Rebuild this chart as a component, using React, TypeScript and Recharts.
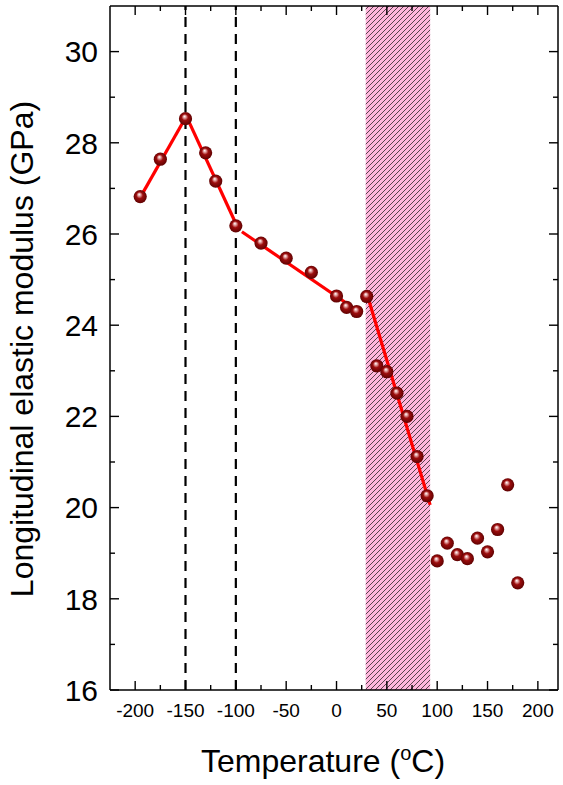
import React from 'react';
import {
  ComposedChart, Scatter, Line, XAxis, YAxis, ReferenceArea, ReferenceLine,
} from 'recharts';

// measured points (temperature in °C, modulus in GPa)
const tempC = [-195, -175, -150, -130, -120, -100, -75, -50, -25, 0, 10, 20, 30, 40, 50, 60, 70, 80, 90, 100, 110, 120, 130, 140, 150, 160, 170, 180];
const modulus = [26.82, 27.64, 28.53, 27.78, 27.16, 26.18, 25.8, 25.47, 25.16, 24.64, 24.39, 24.3, 24.63, 23.11, 22.98, 22.51, 22.0, 21.12, 20.26, 18.83, 19.22, 18.97, 18.88, 19.33, 19.03, 19.52, 20.5, 18.35];

// linear fit segments
const fit1X = [-194.5, -150];
const fit1Y = [26.82, 28.55];
const fit2X = [-148, -99];
const fit2Y = [28.53, 26.18];
const fit3X = [-94, 18];
const fit3Y = [26.05, 24.36];
const fit4X = [31, 93];
const fit4Y = [24.63, 20.06];

// transition regions
const transitionLines = [-150, -100];
const bandStart = 29;
const bandEnd = 93;

const xMajor = [-200, -150, -100, -50, 0, 50, 100, 150, 200];
const xMinor = [-175, -125, -75, -25, 25, 75, 125, 175];
const yMajor = [16, 18, 20, 22, 24, 26, 28, 30];
const yMinor = [17, 19, 21, 23, 25, 27, 29];

const xDomain = [-225, 220];
const yDomain = [16, 31];

const points = tempC.map((t, i) => ({ x: t, y: modulus[i] }));
const toSeg = (xs: number[], ys: number[]) => xs.map((x, i) => ({ x, y: ys[i] }));
const segments = [toSeg(fit1X, fit1Y), toSeg(fit2X, fit2Y), toSeg(fit3X, fit3Y), toSeg(fit4X, fit4Y)];

const FONT = '"Liberation Sans", Arial, Helvetica, sans-serif';
const xTicks = [...xMajor, ...xMinor].sort((a, b) => a - b);
const yTicks = [...yMajor, ...yMinor].sort((a, b) => a - b);

const BottomTick = ({ x, y, payload }: any) => {
  const major = xMajor.includes(payload.value);
  return (
    <g>
      <line x1={x} x2={x} y1={y} y2={y - (major ? 9 : 5)} stroke="#000" strokeWidth={1.4} />
      {major && (
        <text x={x} y={y + 27} textAnchor="middle" fontSize={19} fontFamily={FONT} fill="#000">
          {payload.value}
        </text>
      )}
    </g>
  );
};

const TopTick = ({ x, y, payload }: any) => {
  const major = xMajor.includes(payload.value);
  return <line x1={x} x2={x} y1={y} y2={y + (major ? 9 : 5)} stroke="#000" strokeWidth={1.4} />;
};

const LeftTick = ({ x, y, payload }: any) => {
  const major = yMajor.includes(payload.value);
  return (
    <g>
      <line x1={x} x2={x + (major ? 9 : 5)} y1={y} y2={y} stroke="#000" strokeWidth={1.4} />
      {major && (
        <text x={x - 12} y={y + 10.7} textAnchor="end" fontSize={30} fontFamily={FONT} fill="#000">
          {payload.value}
        </text>
      )}
    </g>
  );
};

const RightTick = ({ x, y, payload }: any) => {
  const major = yMajor.includes(payload.value);
  return <line x1={x} x2={x - (major ? 9 : 5)} y1={y} y2={y} stroke="#000" strokeWidth={1.4} />;
};

const Ball = ({ cx, cy }: any) => (
  <circle cx={cx} cy={cy} r={6.6} fill="url(#ball)" />
);

const HATCH = 5;
const HatchBand = ({ x, y, width, height }: any) => (
  <g>
    <defs>
      <pattern id="hatch" patternUnits="userSpaceOnUse" width={HATCH} height={HATCH}>
        <rect width={HATCH} height={HATCH} fill="#ffb6dc" />
        <path
          d={`M0,${HATCH} L${HATCH},0 M-1,1 L1,-1 M${HATCH - 1},${HATCH + 1} L${HATCH + 1},${HATCH - 1}`}
          stroke="#111" strokeWidth={0.7}
        />
      </pattern>
    </defs>
    <rect x={x} y={y} width={width} height={height} fill="url(#hatch)" />
  </g>
);

export default function App() {
  return (
    <div style={{ position: 'absolute', left: 0, top: 0, width: 563, height: 785, background: '#fff' }}>
      <ComposedChart width={563} height={785} margin={{ top: 0, right: 0, left: 0, bottom: 0 }}>
        <defs>
          <radialGradient id="ball" cx="50%" cy="50%" r="55%" fx="42%" fy="32%">
            <stop offset="0%" stopColor="#ffffff" />
            <stop offset="18%" stopColor="#e6a8a8" />
            <stop offset="45%" stopColor="#9c0d0d" />
            <stop offset="100%" stopColor="#560000" />
          </radialGradient>
        </defs>
        <XAxis
          dataKey="x" type="number" domain={xDomain} ticks={xTicks} interval={0}
          allowDataOverflow height={95} tickSize={0} tickMargin={0} tickLine={false}
          tick={<BottomTick />} axisLine={{ stroke: '#000', strokeWidth: 1.5 }}
          label={{
            content: () => (
              <text x={323} y={772} textAnchor="middle" fontSize={32} fontFamily={FONT} fill="#000">
                Temperature (<tspan fontSize={20} dy={-12}>o</tspan><tspan dy={12}>C)</tspan>
              </text>
            ),
          }}
        />
        <XAxis
          xAxisId="top" orientation="top" dataKey="x" type="number" domain={xDomain} ticks={xTicks}
          interval={0} allowDataOverflow height={6} tickSize={0} tickMargin={0} tickLine={false}
          tick={<TopTick />} axisLine={{ stroke: '#000', strokeWidth: 1.5 }}
        />
        <YAxis
          type="number" domain={yDomain} ticks={yTicks} interval={0} allowDataOverflow width={110}
          tickSize={0} tickMargin={0} tickLine={false} tick={<LeftTick />}
          axisLine={{ stroke: '#000', strokeWidth: 1.5 }}
          label={{
            content: () => (
              <text x={33} y={349} transform="rotate(-90, 33, 349)" textAnchor="middle" fontSize={32} fontFamily={FONT} fill="#000">
                Longitudinal elastic modulus (GPa)
              </text>
            ),
          }}
        />
        <YAxis
          yAxisId="right" orientation="right" type="number" domain={yDomain} ticks={yTicks} interval={0}
          allowDataOverflow width={5} tickSize={0} tickMargin={0} tickLine={false} tick={<RightTick />}
          axisLine={{ stroke: '#000', strokeWidth: 1.5 }}
        />
        <ReferenceArea x1={bandStart} x2={bandEnd} shape={<HatchBand />} ifOverflow="hidden" />
        {transitionLines.map((t) => (
          <ReferenceLine key={t} x={t} stroke="#000" strokeWidth={2.2} strokeDasharray="10 7" />
        ))}
        {segments.map((seg, i) => (
          <Line
            key={i} data={seg} dataKey="y" type="linear" stroke="#ff0000" strokeWidth={3.2}
            dot={false} activeDot={false} isAnimationActive={false} legendType="none"
          />
        ))}
        <Scatter data={points} dataKey="y" shape={<Ball />} isAnimationActive={false} />
      </ComposedChart>
    </div>
  );
}
